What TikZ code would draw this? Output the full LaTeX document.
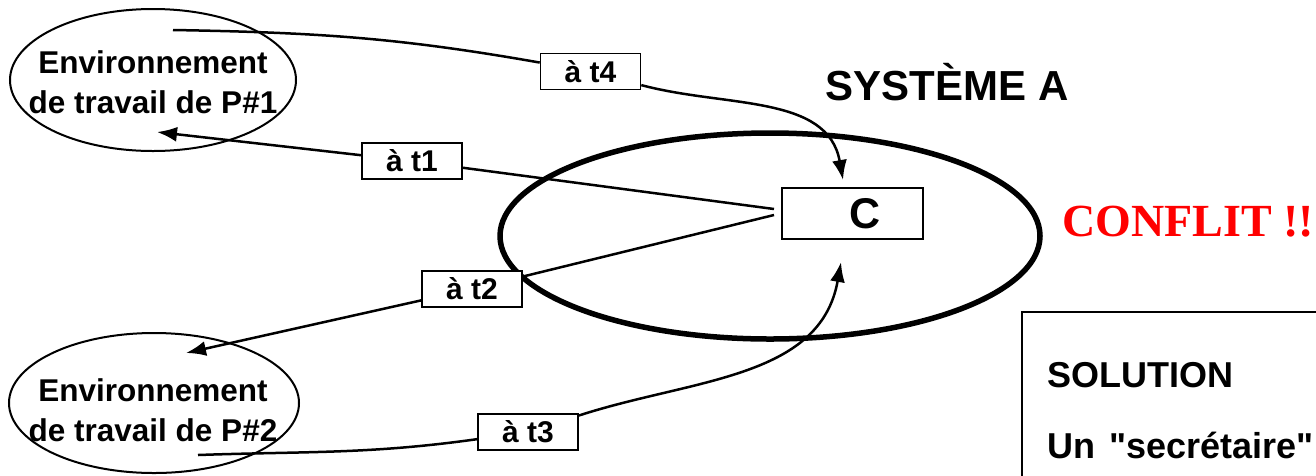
\documentclass[tikz,border=0pt]{standalone}
\usepackage{fontspec}
\setmainfont{Liberation Sans}
\newfontfamily\conflitfont{Liberation Serif}
\usetikzlibrary{arrows.meta}

\begin{document}
\begin{tikzpicture}[x=1pt, y=1pt,
  envtxt/.style={align=center, inner sep=0pt, font=\fontsize{31.5}{40}\selectfont\bfseries},
  tlab/.style={draw, fill=white, line width=1.6pt, minimum width=100pt, minimum height=36pt, inner sep=0pt, font=\fontsize{30}{30}\selectfont\bfseries},
  fl/.style={line width=2.5pt, -{Latex[length=20pt,width=15pt]}}]
\useasboundingbox (0,0) rectangle (1316,-475);

%environnements de travail
\node[envtxt] (p1) at (153,-82) {Environnement\\de travail de P\#1};
\node[envtxt] (p2) at (153,-410) {Environnement\\de travail de P\#2};
\draw[line width=2pt] (153,-80) ellipse [x radius=143pt, y radius=71pt];
\draw[line width=2pt] (154,-403) ellipse [x radius=145pt, y radius=70pt];

%systeme A
\draw[line width=5.5pt] (770,-236) ellipse [x radius=270pt, y radius=103pt];
\node[draw, line width=2pt, minimum width=141pt, minimum height=51pt, inner sep=0pt,
  font=\fontsize{43}{43}\selectfont\bfseries] (c) at (852.5,-213.5) {\hspace*{26pt}C};
\node[font=\fontsize{42}{42}\selectfont\bfseries] (sys) at (947,-82) {SYSTÈME A};
\node[font=\conflitfont\fontsize{46}{46}\selectfont\bfseries, text=red] (conf) at (1188,-222) {CONFLIT !!};

%labels
\node[tlab] (t4) at (590.5,-71.5) {à t4};
\node[tlab] (t1) at (412,-161) {à t1};
\node[tlab] (t2) at (472,-289) {à t2};
\node[tlab] (t3) at (528,-432) {à t3};

\coordinate (s4) at (173,-30);
\coordinate (e4) at (843,-180);
\coordinate (s1) at (774,-209);
\coordinate (e1) at (157,-132);
\coordinate (s2) at (774,-215);
\coordinate (e2) at (186,-353);
\coordinate (s3) at (198,-455);
\coordinate (e3) at (841,-262);

\draw[fl] (s4) to[out=-1,in=170] (t4) to[out=-15,in=100] (e4);
\draw[fl] (s1) -- (t1) -- (e1);
\draw[fl] (s2) -- (t2) -- (e2);
\draw[fl] (s3) to[out=2,in=188] (t3) to[out=18,in=-100] (e3);

%solution
\draw[line width=2pt] (1022,-312) rectangle (1340,-500);
\node[anchor=west, inner sep=0pt, font=\fontsize{36}{36}\selectfont\bfseries] (sol) at (1047,-375) {SOLUTION};
\node[anchor=west, inner sep=0pt, font=\fontsize{36}{36}\selectfont\bfseries] (secr) at (1047,-445) {Un\hspace{14pt}\textquotedbl secrétaire\textquotedbl};

\end{tikzpicture}
\end{document}
